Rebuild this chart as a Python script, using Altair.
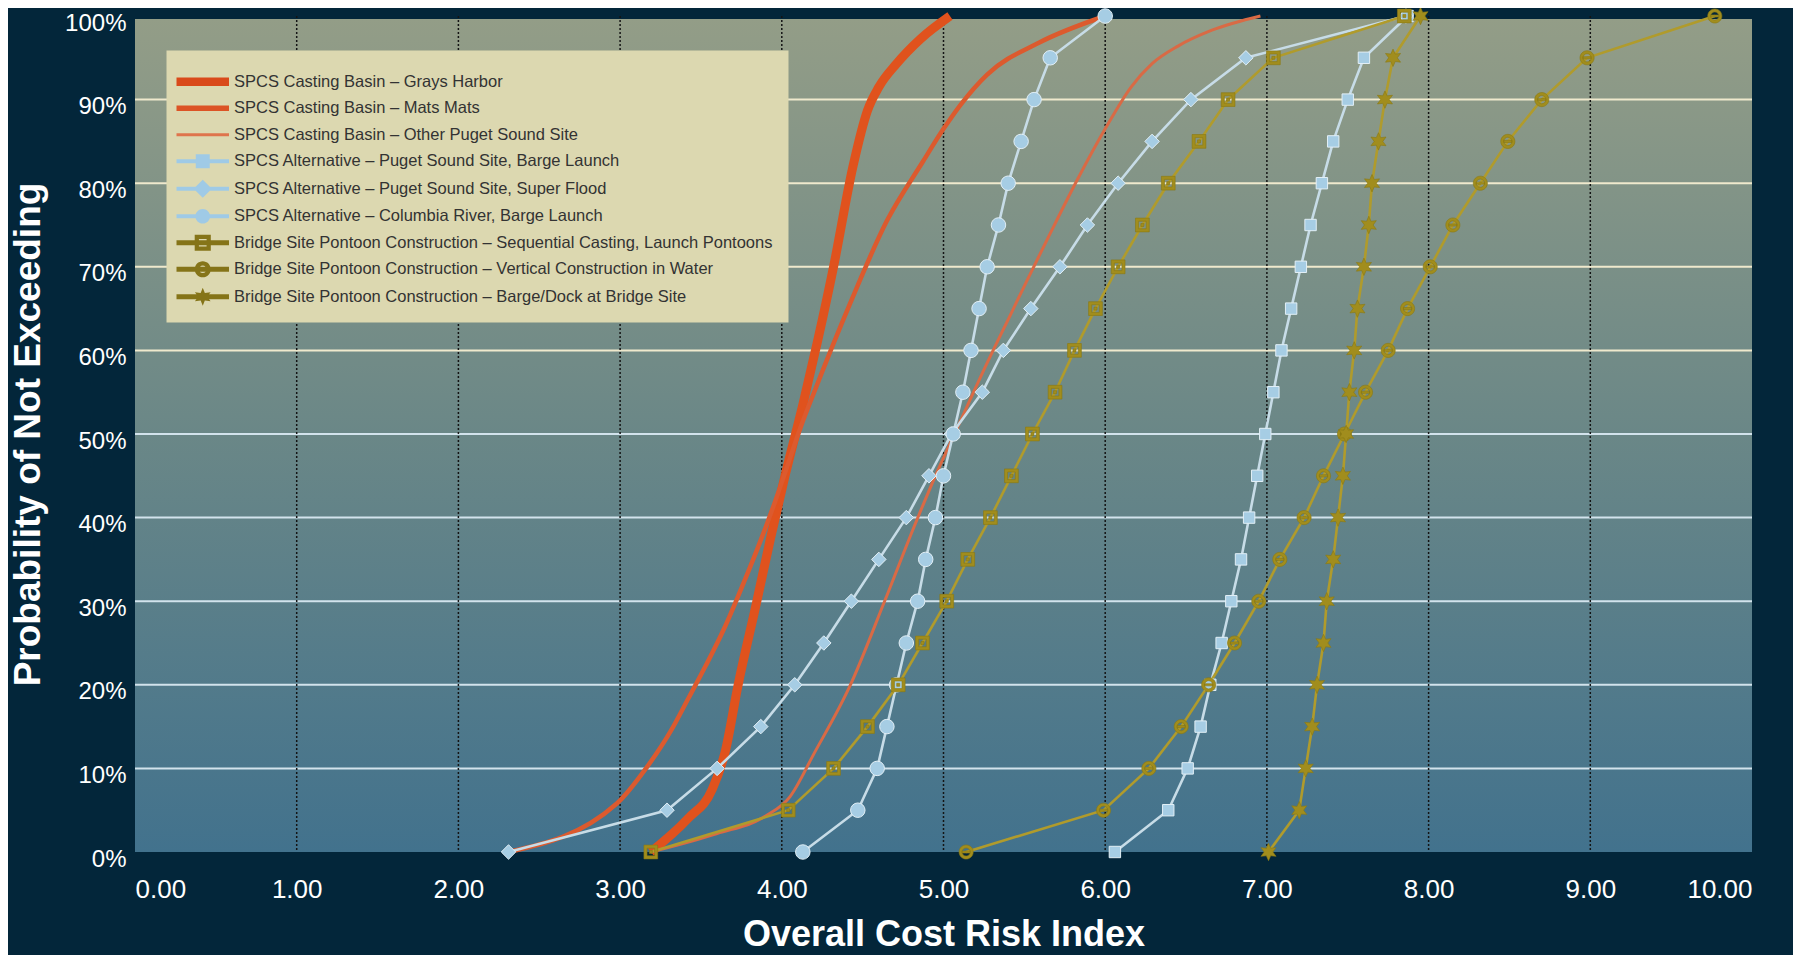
import math
import altair as alt
import pandas as pd

# ---------------- data ----------------
pct_levels = [0, 5, 10, 15, 20, 25, 30, 35, 40, 45, 50, 55, 60, 65, 70, 75, 80, 85, 90, 95, 100]

barge_launch = [6.06, 6.39, 6.51, 6.59, 6.65, 6.72, 6.78, 6.84, 6.89, 6.94, 6.99,
                7.04, 7.09, 7.15, 7.21, 7.27, 7.34, 7.41, 7.50, 7.60, 7.87]
super_flood = [2.31, 3.29, 3.60, 3.87, 4.08, 4.26, 4.43, 4.60, 4.77, 4.91, 5.05,
               5.24, 5.37, 5.54, 5.72, 5.89, 6.08, 6.29, 6.53, 6.87, 7.86]
columbia = [4.13, 4.47, 4.59, 4.65, 4.71, 4.77, 4.84, 4.89, 4.95, 5.00, 5.06,
            5.12, 5.17, 5.22, 5.27, 5.34, 5.40, 5.48, 5.56, 5.66, 6.00]
sequential = [3.19, 4.04, 4.32, 4.53, 4.72, 4.87, 5.02, 5.15, 5.29, 5.42, 5.55,
              5.69, 5.81, 5.94, 6.08, 6.23, 6.39, 6.58, 6.76, 7.04, 7.85]
vertical = [5.14, 5.99, 6.27, 6.47, 6.64, 6.80, 6.95, 7.08, 7.23, 7.35, 7.48,
            7.61, 7.75, 7.87, 8.01, 8.15, 8.32, 8.49, 8.70, 8.98, 9.77]
barge_dock = [7.01, 7.20, 7.24, 7.28, 7.31, 7.35, 7.37, 7.41, 7.44, 7.47, 7.49,
              7.51, 7.54, 7.56, 7.60, 7.63, 7.65, 7.69, 7.73, 7.78, 7.95]

grays_cost = [3.19, 3.42, 3.57, 3.65, 3.73, 3.84, 3.93, 4.02, 4.13, 4.22, 4.32, 4.44,
              4.53, 4.60, 4.71, 4.86, 5.04]
grays_prob = [0, 4, 7.5, 12, 20, 29.5, 37.5, 45, 53.5, 61, 70, 82, 88.7, 91.5, 94.3, 97.3, 100]

mats_cost = [2.31, 2.98, 3.16, 3.32, 3.42, 3.53, 3.65, 3.76, 3.87, 3.96, 4.04, 4.12, 4.20,
             4.42, 4.65, 4.87, 5.00, 5.11, 5.27, 5.59, 6.00]
mats_prob = [0, 5.8, 10, 14.7, 18.3, 22.3, 27, 32, 37.3, 42, 46.5, 51, 55,
             65.5, 75.5, 82.5, 86.5, 89.5, 93, 96.8, 100]

other_cost = [3.19, 3.60, 3.90, 4.05, 4.20, 4.42, 4.64, 4.82, 4.95, 5.08, 5.27, 5.42,
              5.52, 5.66, 5.83, 6.00, 6.16, 6.29, 6.45, 6.66, 6.96]
other_prob = [0, 2.2, 4.3, 6.6, 11.8, 19.8, 30.2, 39, 45, 50.5, 58.5, 64.5,
              68.5, 74, 80.5, 86.5, 91.5, 94.3, 96.4, 98.3, 100]

names = [
    "SPCS Casting Basin \u2013 Grays Harbor",
    "SPCS Casting Basin \u2013 Mats Mats",
    "SPCS Casting Basin \u2013 Other Puget Sound Site",
    "SPCS Alternative \u2013 Puget Sound Site, Barge Launch",
    "SPCS Alternative \u2013 Puget Sound Site, Super Flood",
    "SPCS Alternative \u2013 Columbia River, Barge Launch",
    "Bridge Site Pontoon Construction \u2013 Sequential Casting, Launch Pontoons",
    "Bridge Site Pontoon Construction \u2013 Vertical Construction in Water",
    "Bridge Site Pontoon Construction \u2013 Barge/Dock at Bridge Site",
]
x_ticks = [0, 1, 2, 3, 4, 5, 6, 7, 8, 9, 10]
y_ticks = [0, 10, 20, 30, 40, 50, 60, 70, 80, 90, 100]

# ---------------- tables ----------------
marker_values = [barge_launch, super_flood, columbia, sequential, vertical, barge_dock]
marker_names = names[3:]
rows = []
for nm, vals in zip(marker_names, marker_values):
    for p, c in zip(pct_levels, vals):
        rows.append({"series": nm, "cost": c, "prob": p})
markers_df = pd.DataFrame(rows)

rows = []
for nm, cs, ps in zip(names[:3], [grays_cost, mats_cost, other_cost],
                      [grays_prob, mats_prob, other_prob]):
    for c, p in zip(cs, ps):
        rows.append({"series": nm, "cost": c, "prob": p})
curves_df = pd.DataFrame(rows)

xgrid_df = pd.DataFrame({"cost": x_ticks[1:-1]})
ygrid_df = pd.DataFrame({"prob": y_ticks[1:-1]})

# ---------------- styles ----------------
FONT = "Liberation Sans, Arial, sans-serif"
NARROW = "Liberation Sans Narrow, Arial Narrow, Liberation Sans, sans-serif"
BLUE_LINE = "#c7dce7"
BLUE_FILL = "#a6cde4"
BLUE_EDGE = "#e2eff6"
OLIVE_LINE = "#b09b2c"
OLIVE_MARK = "#a18d1d"


def star_path(n, ro, ri):
    pts = []
    for k in range(2 * n):
        a = -math.pi / 2 + k * math.pi / n
        r = ro if k % 2 == 0 else ri
        pts.append(f"{r * math.cos(a):.3f},{r * math.sin(a):.3f}")
    return "M" + "L".join(pts) + "Z"


def bar(h):
    return f"M-3.75,{-h}H3.75V{h}H-3.75Z"


def circ(r, cw=True):
    s = 1 if cw else 0
    return f"M{-r},0A{r},{r} 0 1,{s} {r},0A{r},{r} 0 1,{s} {-r},0Z"


sq_ring = "M-1,-1H1V1H-1Z M-0.55,-0.55V0.55H0.55V-0.55Z"
olive_square_mark = sq_ring + " M-0.22,-0.22H0.22V0.22H-0.22Z"
olive_circle_mark = circ(1) + " " + circ(0.58, False) + " M-0.58,-0.15H0.58V0.15H-0.58Z"
star_mark = star_path(6, 1.1, 0.55)

leg_paths = [
    bar(0.6),
    bar(0.38),
    bar(0.2),
    bar(0.3) + " M-1,-1H1V1H-1Z",
    bar(0.3) + " M0,-1.3L1.3,0L0,1.3L-1.3,0Z",
    bar(0.3) + " " + circ(1.05),
    bar(0.36) + " M-1.15,-1.15H1.15V1.15H-1.15Z M-0.55,-0.55V0.55H0.55V-0.55Z",
    bar(0.36) + " " + circ(1.15) + " " + circ(0.55, False),
    bar(0.36) + " " + star_path(6, 1.3, 0.6),
]
leg_colors = ["#d94a1a", "#dc5425", "#df744c", "#9fcae6", "#9fcae6", "#9fcae6",
              "#857418", "#857418", "#857418"]

W, H = 1617, 836
xs = alt.Scale(domain=[0, 10], nice=False, zero=False)
ys = alt.Scale(domain=[0, 100], nice=False, zero=False)

x_axis = alt.Axis(
    values=x_ticks, format=".2f", title="Overall Cost Risk Index",
    labelFont=FONT, labelFontSize=26, labelColor="white", labelPadding=24,
    titleFont=FONT, titleFontSize=36, titleFontWeight="bold", titleColor="white",
    titleY=82, titleBaseline="middle",
    domain=False, ticks=False, tickSize=0, grid=False,
)
y_axis = alt.Axis(
    values=y_ticks, labelExpr="datum.value + '%'", title="Probability of Not Exceeding",
    labelFont=FONT, labelFontSize=24, labelColor="white", labelPadding=9, labelOffset=7,
    titleFont=FONT, titleFontSize=37, titleFontWeight="bold", titleColor="white",
    titleX=-107, titleBaseline="middle",
    domain=False, ticks=False, tickSize=0, grid=False,
)
X = alt.X("cost:Q", scale=xs, axis=x_axis)
Y = alt.Y("prob:Q", scale=ys, axis=y_axis)

# ---------------- layers ----------------
gradient = alt.LinearGradient(
    gradient="linear", x1=0, x2=0, y1=0, y2=1,
    stops=[alt.GradientStop(color="#939d87", offset=0),
           alt.GradientStop(color="#6a8787", offset=0.5),
           alt.GradientStop(color="#42728d", offset=1)],
)
panel = alt.Chart(pd.DataFrame({"k": [0]})).mark_rect(color=gradient).encode(
    x=alt.value(0), x2=alt.value("width"), y=alt.value(3), y2=alt.value("height")
)

hgrid = alt.Chart(ygrid_df).mark_rule(strokeWidth=2).encode(
    y=Y,
    color=alt.condition("datum.prob >= 60", alt.value("#efe9cd"), alt.value("#d2e3ec")),
)
vgrid = alt.Chart(xgrid_df).mark_rule(strokeWidth=1.5, strokeDash=[2, 2], color="#141414").encode(
    x=X,
)

layers = [panel, hgrid, vgrid]

red_specs = [(names[0], "#e0521d", 9), (names[1], "#dc5a2e", 4.5), (names[2], "#d96a45", 3)]
for nm, col, w in red_specs:
    layers.append(
        alt.Chart(curves_df).transform_filter(alt.datum.series == nm)
        .mark_line(interpolate="monotone", color=col, strokeWidth=w)
        .encode(x=X, y=Y, order=alt.Order("prob:Q"))
    )

for group, col in [(names[3:6], BLUE_LINE), (names[6:9], OLIVE_LINE)]:
    layers.append(
        alt.Chart(markers_df).transform_filter(alt.FieldOneOfPredicate(field="series", oneOf=group))
        .mark_line(color=col, strokeWidth=2.6)
        .encode(x=X, y=Y, detail="series:N", order=alt.Order("prob:Q"))
    )

point_specs = [
    (names[3], "square", 130, BLUE_FILL, BLUE_EDGE, 1),
    (names[4], "diamond", 210, BLUE_FILL, BLUE_EDGE, 1),
    (names[5], "circle", 210, BLUE_FILL, BLUE_EDGE, 1),
    (names[6], olive_square_mark, 190, OLIVE_MARK, "#8a7812", 0.6),
    (names[7], olive_circle_mark, 200, OLIVE_MARK, "#8a7812", 0.6),
    (names[8], star_mark, 250, OLIVE_MARK, "#8a7812", 0.6),
]
for nm, shp, sz, fill, stroke, sw in point_specs:
    layers.append(
        alt.Chart(markers_df).transform_filter(alt.datum.series == nm)
        .mark_point(shape=shp, size=sz, filled=True, fill=fill, stroke=stroke,
                    strokeWidth=sw, opacity=1)
        .encode(x=X, y=Y)
    )

leg = alt.Legend(
    title=" ", titleFontSize=7, titlePadding=0,
    orient="none", legendX=31.5, legendY=34.5,
    fillColor="#dcd8b0", padding=16, cornerRadius=0,
    symbolSize=196, symbolStrokeWidth=0, symbolOffset=12, symbolOpacity=1,
    labelOffset=23, labelFont=NARROW, labelFontSize=16.5, labelColor="#333333",
    labelLimit=0, rowPadding=9.5, zindex=5,
)
legend_layer = (
    alt.Chart(markers_df).transform_filter("false")
    .mark_point(filled=True, opacity=1, size=196)
    .encode(
        color=alt.Color("series:N", scale=alt.Scale(domain=names, range=leg_colors), legend=leg),
        shape=alt.Shape("series:N", scale=alt.Scale(domain=names, range=leg_paths), legend=leg),
    )
)
layers.append(legend_layer)

chart = (
    alt.layer(*layers)
    .properties(
        width=W, height=H,
        padding={"left": 127, "top": 8, "right": 41, "bottom": 103},
        autosize=alt.AutoSizeParams(type="none"),
        background="#03263a",
    )
    .configure_view(stroke=None)
)

chart.save("out.html", embed_options={"renderer": "svg", "actions": False})
